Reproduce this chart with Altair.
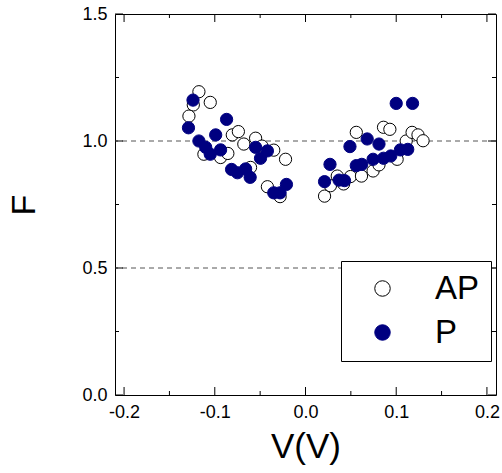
import altair as alt
import pandas as pd

# AP (open circles)
ap_v = [-0.1175, -0.1237, -0.105, -0.1285, -0.0807, -0.074, -0.068, -0.055, -0.048,
        -0.112, -0.0936, -0.0856, -0.035, -0.022, -0.0606, -0.042, -0.028,
        0.021, 0.0275, 0.035, 0.042, 0.0496, 0.056, 0.0617, 0.0745, 0.081, 0.086,
        0.093, 0.101, 0.111, 0.1175, 0.124, 0.1296]
ap_f = [1.194, 1.142, 1.152, 1.098, 1.024, 1.037, 0.988, 1.011, 0.980,
        0.948, 0.935, 0.951, 0.964, 0.928, 0.896, 0.820, 0.781,
        0.783, 0.824, 0.862, 0.831, 0.860, 1.034, 0.862, 0.882, 0.906, 1.054,
        1.046, 0.928, 1.000, 1.034, 1.024, 1.001]
# P (filled circles)
p_v = [-0.124, -0.129, -0.087, -0.1175, -0.099, -0.110, -0.105, -0.0936, -0.055,
       -0.042, -0.0496, -0.0815, -0.075, -0.066, -0.061, -0.035, -0.028, -0.021,
       0.021, 0.027, 0.037, 0.043, 0.049, 0.056, 0.062, 0.068, 0.0745, 0.081,
       0.086, 0.094, 0.100, 0.1046, 0.1127, 0.118]
p_f = [1.161, 1.052, 1.085, 1.000, 1.024, 0.975, 0.948, 0.965, 0.975,
       0.961, 0.932, 0.888, 0.875, 0.890, 0.857, 0.796, 0.796, 0.829,
       0.840, 0.908, 0.846, 0.844, 0.978, 0.903, 0.908, 1.008, 0.928, 0.988,
       0.932, 0.941, 1.148, 0.965, 0.967, 1.148]

x_major = [-0.2, -0.1, 0.0, 0.1, 0.2]
x_minor = [-0.15, -0.05, 0.05, 0.15]
y_major = [0.0, 0.5, 1.0, 1.5]
y_minor = [0.25, 0.75, 1.25]
grid_f = [0.5, 1.0]

W = 381
H = 381
FONT = "Liberation Sans"

xs = alt.Scale(domain=[-0.21, 0.21], nice=False, zero=False)
ys = alt.Scale(domain=[0, 1.5], nice=False, zero=False)

pts = pd.DataFrame({
    "V": ap_v + p_v,
    "F": ap_f + p_f,
    "type": ["AP"] * len(ap_v) + ["P"] * len(p_v),
})

LBL = "replace(format(datum.value, '.1f'), '\u2212', '-')"

xaxis = alt.Axis(values=x_major, labelExpr=LBL, title="V(V)", ticks=False, tickSize=0,
                 domain=False, grid=False, labelFontSize=18, labelFont=FONT,
                 labelColor="black", labelPadding=8, labelFlush=False, labelOverlap=False,
                 titleFontSize=35, titleFont=FONT, titleFontWeight="normal",
                 titleColor="black", titlePadding=8)
yaxis = alt.Axis(values=y_major, labelExpr=LBL, title="F", ticks=False, tickSize=0,
                 domain=False, grid=False, labelFontSize=18, labelFont=FONT,
                 labelColor="black", labelPadding=8, labelFlush=False, labelOverlap=False,
                 titleFontSize=34, titleFont=FONT, titleFontWeight="normal",
                 titleColor="black", titlePadding=40)

grid = alt.Chart(pd.DataFrame({"F": grid_f})).mark_rule(
    color="#555555", strokeDash=[5, 4], strokeWidth=1
).encode(y=alt.Y("F:Q", scale=ys, axis=yaxis))

leg = alt.Legend(title=None, orient="none", legendX=226, legendY=247,
                 strokeColor="black", fillColor="white", padding=11,
                 labelFontSize=33, labelFont=FONT, labelColor="black",
                 symbolSize=240, symbolStrokeWidth=1, symbolOffset=14,
                 labelOffset=36, rowPadding=10, symbolType="circle")

points = alt.Chart(pts).mark_point(
    shape="circle", filled=True, size=150, strokeWidth=1, opacity=1
).encode(
    x=alt.X("V:Q", scale=xs, axis=xaxis),
    y=alt.Y("F:Q", scale=ys, axis=yaxis),
    fill=alt.Fill("type:N", scale=alt.Scale(domain=["AP", "P"], range=["white", "#000080"]), legend=leg),
    stroke=alt.Stroke("type:N", scale=alt.Scale(domain=["AP", "P"], range=["black", "#000080"]), legend=leg),
    order=alt.Order("type:N"),
)

xmaj = pd.DataFrame({"V": x_major})
xmin = pd.DataFrame({"V": x_minor})
ymaj = pd.DataFrame({"F": y_major})
ymin = pd.DataFrame({"F": y_minor})

def xt(df, length, bottom):
    y1 = H if bottom else 0
    y2 = H - length if bottom else length
    return alt.Chart(df).mark_rule(color="black", strokeWidth=1).encode(
        x=alt.X("V:Q", scale=xs), y=alt.value(y1), y2=alt.value(y2))

def yt(df, length, left):
    x1 = 0 if left else W
    x2 = length if left else W - length
    return alt.Chart(df).mark_rule(color="black", strokeWidth=1).encode(
        y=alt.Y("F:Q", scale=ys), x=alt.value(x1), x2=alt.value(x2))

ticks = [xt(xmaj, 8, True), xt(xmin, 4, True), xt(xmaj, 8, False), xt(xmin, 4, False),
         yt(ymaj, 8, True), yt(ymin, 4, True), yt(ymaj, 8, False), yt(ymin, 4, False)]

chart = alt.layer(grid, points, *ticks).properties(
    width=W, height=H,
    autosize=alt.AutoSizeParams(type="none"),
    padding={"left": 115, "top": 14, "right": 6, "bottom": 78},
    background="white",
).configure_view(stroke="black", strokeWidth=1)

chart.save("out.html", embed_options={"renderer": "svg", "actions": False})
